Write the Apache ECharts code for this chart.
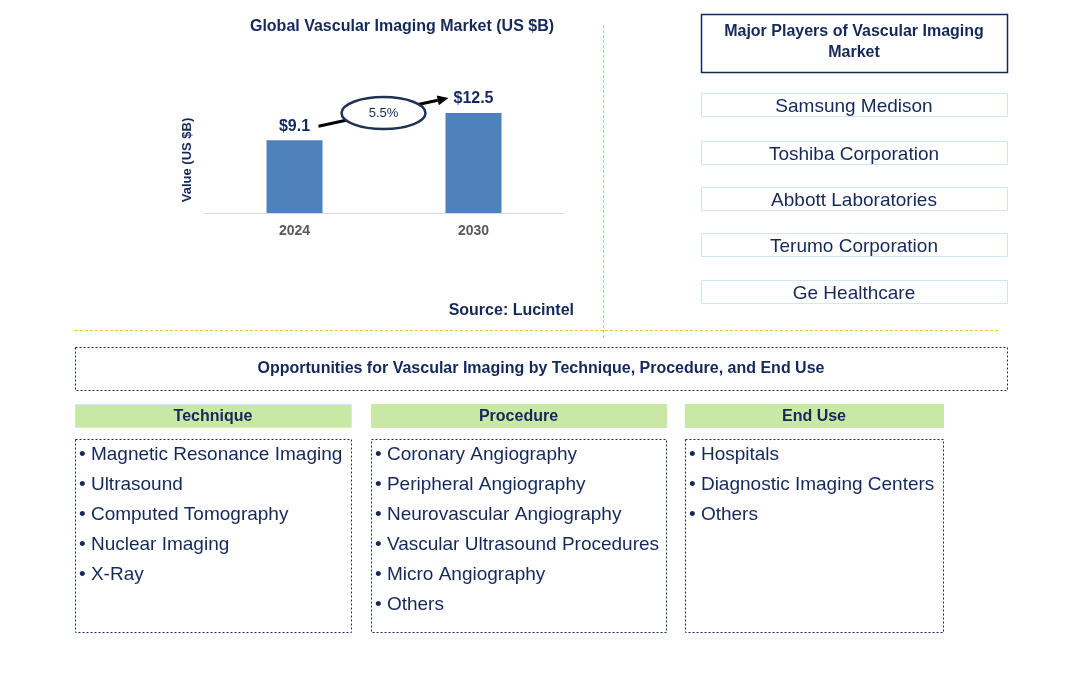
<!DOCTYPE html>
<html><head><meta charset="utf-8">
<script src="https://cdn.jsdelivr.net/npm/echarts@6/dist/echarts.min.js"></script>
<style>html,body{margin:0;padding:0;background:#fff}#c{width:1072px;height:673px}</style>
</head><body><div id="c"></div>
<script>
const years = ['2024', '2030'];
const values = [9.1, 12.5];
const valueLabels = ['$9.1', '$12.5'];
const cagr = '5.5%';
const chartTitle = 'Global Vascular Imaging Market (US $B)';
const yName = 'Value (US $B)';
const source = 'Source: Lucintel';
const playersTitle = ['Major Players of Vascular Imaging', 'Market'];
const players = ['Samsung Medison', 'Toshiba Corporation', 'Abbott Laboratories', 'Terumo Corporation', 'Ge Healthcare'];
const oppTitle = 'Opportunities for Vascular Imaging by Technique, Procedure, and End Use';
const segHeads = ['Technique', 'Procedure', 'End Use'];
const technique = ['Magnetic Resonance Imaging', 'Ultrasound', 'Computed Tomography', 'Nuclear Imaging', 'X-Ray'];
const procedure = ['Coronary Angiography', 'Peripheral Angiography', 'Neurovascular Angiography', 'Vascular Ultrasound Procedures', 'Micro Angiography', 'Others'];
const endUse = ['Hospitals', 'Diagnostic Imaging Centers', 'Others'];

const NAVY = '#14285a';
const FONT = '"Liberation Sans", Arial, sans-serif';
const chart = echarts.init(document.getElementById('c'), null, {renderer: 'canvas'});

const g = [];
g.push({type: 'text', x: 402, y: 27, style: {text: chartTitle, font: 'bold 16px ' + FONT, fill: NAVY, align: 'center', verticalAlign: 'middle'}});
g.push({type: 'text', x: 187, y: 160, rotation: Math.PI / 2, style: {text: yName, font: 'bold 13px ' + FONT, fill: NAVY, align: 'center', verticalAlign: 'middle'}});
g.push({type: 'text', x: 574, y: 311, style: {text: source, font: 'bold 16px ' + FONT, fill: NAVY, align: 'right', verticalAlign: 'middle'}});
g.push({type: 'line', shape: {x1: 603.5, y1: 25, x2: 603.5, y2: 338}, style: {stroke: '#f5c242', lineWidth: 1, lineDash: [3, 2]}});
g.push({type: 'line', shape: {x1: 75, y1: 330.5, x2: 998, y2: 330.5}, style: {stroke: '#f5c242', lineWidth: 1, lineDash: [3, 2]}});
g.push({type: 'rect', shape: {x: 701.5, y: 14.5, width: 306, height: 58}, style: {fill: '#fff', stroke: NAVY, lineWidth: 1.5}});
g.push({type: 'text', x: 854, y: 32, style: {text: playersTitle[0], font: 'bold 16px ' + FONT, fill: NAVY, align: 'center', verticalAlign: 'middle'}});
g.push({type: 'text', x: 854, y: 53, style: {text: playersTitle[1], font: 'bold 16px ' + FONT, fill: NAVY, align: 'center', verticalAlign: 'middle'}});
const playerY = [93, 141, 187, 233, 280];
players.forEach((p, i) => {
  g.push({type: 'rect', shape: {x: 701.5, y: playerY[i] + 0.5, width: 306, height: 23}, style: {fill: '#fff', stroke: '#cfe6f5', lineWidth: 1}});
  g.push({type: 'text', x: 854, y: playerY[i] + 14, style: {text: p, font: '19px ' + FONT, fill: NAVY, align: 'center', verticalAlign: 'middle'}});
});
g.push({type: 'rect', shape: {x: 75.5, y: 347.5, width: 932, height: 43}, style: {fill: 'none', stroke: NAVY, lineWidth: 1, lineDash: [2, 2]}});
g.push({type: 'text', x: 541, y: 369, style: {text: oppTitle, font: 'bold 16px ' + FONT, fill: NAVY, align: 'center', verticalAlign: 'middle'}});
const cols = [{x: 75, w: 276, items: technique}, {x: 371, w: 295, items: procedure}, {x: 685, w: 258, items: endUse}];
cols.forEach((c, i) => {
  g.push({type: 'rect', shape: {x: c.x + 0.5, y: 404.5, width: c.w, height: 23}, style: {fill: '#c9e7a5', stroke: i === 0 ? '#cfe6f5' : '#c9e7a5', lineWidth: 1}});
  g.push({type: 'text', x: c.x + c.w / 2, y: 416.5, style: {text: segHeads[i], font: 'bold 16px ' + FONT, fill: NAVY, align: 'center', verticalAlign: 'middle'}});
  g.push({type: 'rect', shape: {x: c.x + 0.5, y: 439.5, width: c.w, height: 193}, style: {fill: 'none', stroke: NAVY, lineWidth: 1, lineDash: [2, 2]}});
  c.items.forEach((t, j) => {
    g.push({type: 'text', x: c.x + 4, y: 454.5 + j * 30, style: {text: '\u2022 ' + t, font: '19px ' + FONT, fill: NAVY, verticalAlign: 'middle'}});
  });
});

chart.setOption({
  animation: false,
  grid: {left: 205, right: 1072 - 563, top: 101, height: 112},
  xAxis: {type: 'category', data: years,
    axisLine: {lineStyle: {color: '#d9d9d9', width: 1}}, axisTick: {show: false},
    axisLabel: {color: '#595959', fontFamily: FONT, fontWeight: 'bold', fontSize: 14, margin: 11}},
  yAxis: {type: 'value', min: 0, max: 14, show: false},
  series: [{type: 'bar', data: values, barWidth: 56, itemStyle: {color: '#4f81bd'},
    label: {show: true, position: 'top', distance: 6, formatter: p => valueLabels[p.dataIndex], color: NAVY, fontFamily: FONT, fontWeight: 'bold', fontSize: 16}}],
  graphic: g
});

const p1 = chart.convertToPixel({seriesIndex: 0}, [0, values[0]]);
const p2 = chart.convertToPixel({seriesIndex: 0}, [1, values[1]]);
const a1 = [p1[0] + 24, p1[1] - 14];
const a2 = [p2[0] - 25, p2[1] - 15];
const ang = Math.atan2(a2[1] - a1[1], a2[0] - a1[0]);
const hl = 11, hw = 5;
const base = [a2[0] - hl * Math.cos(ang), a2[1] - hl * Math.sin(ang)];
const cx = (a1[0] + a2[0]) / 2, cy = (a1[1] + a2[1]) / 2 + 1;
const extra = [
  {type: 'line', shape: {x1: a1[0], y1: a1[1], x2: base[0], y2: base[1]}, style: {stroke: '#000', lineWidth: 3}},
  {type: 'polygon', shape: {points: [a2, [base[0] + hw * Math.sin(ang), base[1] - hw * Math.cos(ang)], [base[0] - hw * Math.sin(ang), base[1] + hw * Math.cos(ang)]]}, style: {fill: '#000'}},
  {type: 'ellipse', shape: {cx: cx, cy: cy, rx: 42, ry: 16}, style: {fill: '#fff', stroke: '#1f3350', lineWidth: 2.5}},
  {type: 'text', x: cx, y: cy, style: {text: cagr, font: '13px ' + FONT, fill: NAVY, align: 'center', verticalAlign: 'middle'}}
];
chart.setOption({graphic: g.concat(extra)});
</script></body></html>
